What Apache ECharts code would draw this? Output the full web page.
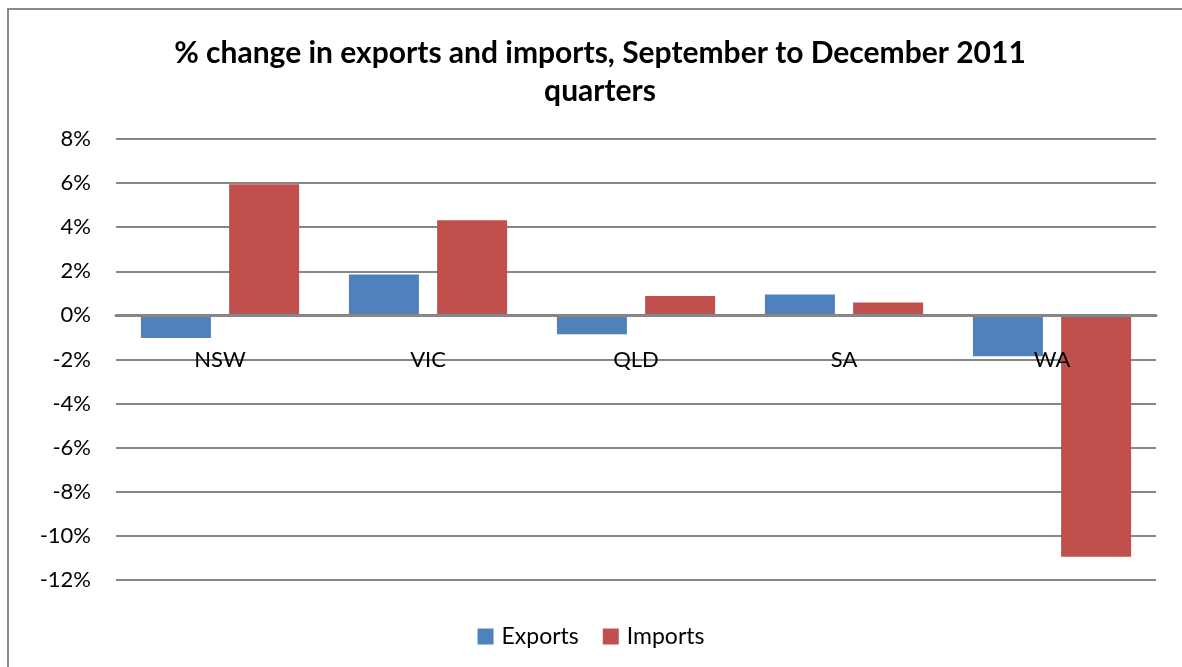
<!DOCTYPE html>
<html>
<head>
<meta charset="utf-8">
<script src="https://cdn.jsdelivr.net/npm/echarts@6/dist/echarts.min.js"></script>
<style>
  html, body { margin: 0; padding: 0; background: #fff; }
  #chart { width: 1182px; height: 667px; }
</style>
</head>
<body>
<div id="chart"></div>
<script>
// data
const states = ['NSW', 'VIC', 'QLD', 'SA', 'WA']
const exportsPct = [-1.02, 1.86, -0.85, 0.95, -1.85]
const importsPct = [5.95, 4.32, 0.88, 0.59, -10.95]
const yTicks = { min: -12, max: 8, step: 2 }

const font = 'Lato, "Open Sans", sans-serif'

const gridTop = 139
const gridBottom = 87
const chartHeight = 667

// put the category axis (line + labels) on the 0% line
const plotHeight = chartHeight - gridTop - gridBottom
const zeroFromBottom = plotHeight * (0 - yTicks.min) / (yTicks.max - yTicks.min)

const chart = echarts.init(document.getElementById('chart'))

chart.setOption({
  backgroundColor: '#fff',
  animation: false,
  title: {
    text: '% change in exports and imports, September to December 2011\nquarters',
    left: 595,
    textAlign: 'center',
    top: 29,
    textStyle: {
      fontFamily: font,
      fontSize: 30,
      fontWeight: 'bold',
      color: '#000',
      lineHeight: 38,
    },
  },
  graphic: [
    {
      // outer frame of the chart area
      type: 'rect',
      shape: { x: 8, y: 9, width: 1200, height: 700 },
      style: { fill: 'none', stroke: '#898989', lineWidth: 2 },
      silent: true,
    },
  ],
  legend: {
    bottom: 14,
    left: 'center',
    itemWidth: 16,
    itemHeight: 16,
    itemGap: 24,
    icon: 'rect',
    textStyle: { fontFamily: font, fontSize: 23, color: '#000', padding: [0, 0, 0, 3] },
    data: ['Exports', 'Imports'],
  },
  grid: {
    left: 116,
    right: 26,
    top: gridTop,
    bottom: gridBottom,
  },
  xAxis: {
    type: 'category',
    data: states,
    offset: -zeroFromBottom,
    axisLine: { onZero: false, lineStyle: { color: '#868686', width: 3 } },
    axisTick: { show: false },
    axisLabel: {
      margin: 34,
      fontFamily: font,
      fontSize: 22,
      color: '#000',
    },
    z: 5,
  },
  yAxis: {
    type: 'value',
    min: yTicks.min,
    max: yTicks.max,
    interval: yTicks.step,
    axisLine: { show: false },
    axisTick: { show: false },
    axisLabel: {
      margin: 25,
      fontFamily: font,
      fontSize: 22,
      color: '#000',
      formatter: v => v + '%',
    },
    splitLine: { lineStyle: { color: '#868686', width: 2 } },
  },
  series: [
    {
      name: 'Exports',
      type: 'bar',
      data: exportsPct,
      barWidth: 70,
      barGap: '26%',
      itemStyle: { color: '#4F81BD' },
    },
    {
      name: 'Imports',
      type: 'bar',
      data: importsPct,
      barWidth: 70,
      itemStyle: { color: '#C0504D' },
    },
  ],
})

window.addEventListener('resize', () => {
  chart.resize()
})
</script>
</body>
</html>
